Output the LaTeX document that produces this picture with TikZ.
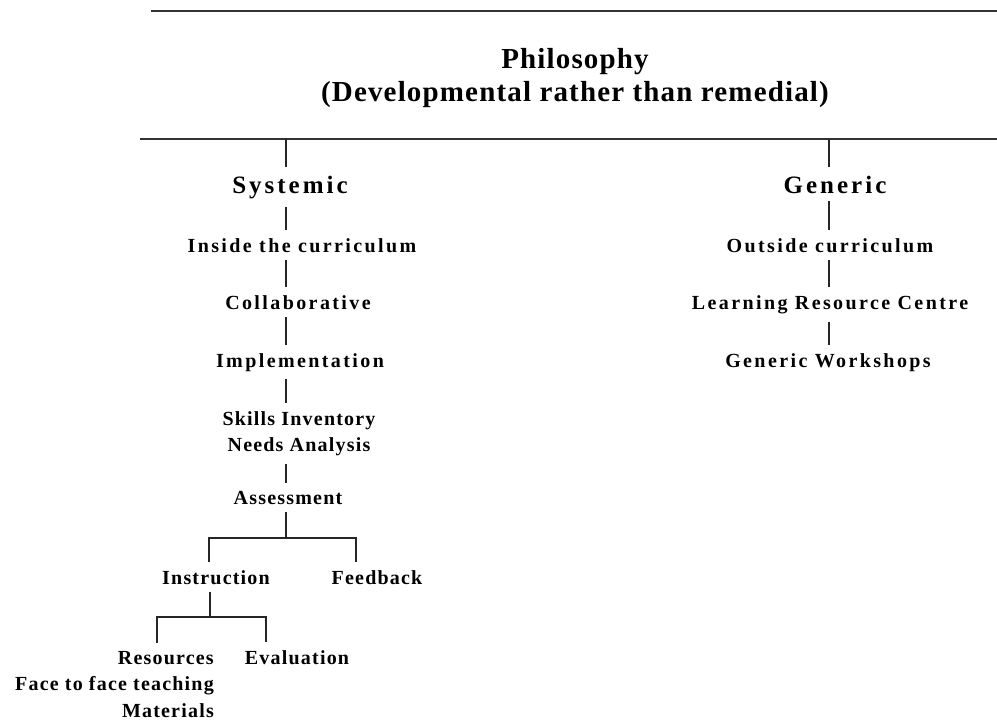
\documentclass[tikz,border=0pt]{standalone}
\usepackage{fontspec}
\setmainfont{Liberation Serif}
\newfontfamily\itemfam[LetterSpace=12]{Liberation Serif}
\newfontfamily\itemfamtight[LetterSpace=6]{Liberation Serif}
\newfontfamily\titlefam[LetterSpace=4]{Liberation Serif}
\tikzset{
  conn/.style={line width=1.5pt, black!85},
  rule/.style={line width=2.2pt, black!80},
  item/.style={inner xsep=0pt, inner ysep=8pt, anchor=base, font=\itemfam\bfseries\fontsize{20}{26.5}\selectfont},
  itemt/.style={inner xsep=0pt, inner ysep=8pt, anchor=base, font=\itemfamtight\bfseries\fontsize{20}{26.5}\selectfont},
  head/.style={inner xsep=0pt, inner ysep=8pt, anchor=base, font=\itemfam\bfseries\fontsize{25}{30}\selectfont},
  ttl/.style={inner sep=0pt, anchor=north, align=center, font=\titlefam\bfseries\fontsize{29}{33}\selectfont}
}
\begin{document}
\begin{tikzpicture}[x=1pt,y=-1pt]
\useasboundingbox (0,0) rectangle (997,721);
% rules
\coordinate (r1a) at (151,11); \coordinate (r1b) at (997,11);
\coordinate (r2a) at (140,139); \coordinate (r2b) at (997,139);
\draw[rule] (r1a) -- (r1b);
\draw[rule] (r2a) -- (r2b);
\node[ttl] (phil) at (575,48) {Philosophy\\(Developmental rather than remedial)};
% columns
\coordinate (cs) at (286,139);
\coordinate (cg) at (829,139);
% Systemic column
\node[head] (sys) at (290,193) {Systemic};
\node[item] (inside) at (302,252) {Inside the curriculum};
\node[item] (collab) at (298,309) {Collaborative};
\node[item] (impl) at (300,367) {Implementation};
\node[itemt, anchor=north, align=center] (skills) at (299,403) {Skills Inventory\\Needs Analysis};
\node[itemt] (assess) at (288,504) {Assessment};
\node[itemt] (instr) at (216,584) {Instruction};
\node[itemt] (feed) at (377,584) {Feedback};
\node[itemt, anchor=north east, align=right] (res) at (214,643) {Resources\\Face to face teaching\\Materials};
\node[itemt] (eval) at (297,664) {Evaluation};
% Generic column
\node[head] (gen) at (835,193) {Generic};
\node[item] (outside) at (830,252) {Outside curriculum};
\node[item] (lrc) at (830,309) {Learning Resource Centre};
\node[item] (gw) at (828,367) {Generic Workshops};
% connectors systemic
\draw[conn] (cs) -- (cs |- sys.north);
\draw[conn] (sys.south -| cs) -- (inside.north -| cs);
\draw[conn] (inside.south -| cs) -- (collab.north -| cs);
\draw[conn] (collab.south -| cs) -- (impl.north -| cs);
\draw[conn] (impl.south -| cs) -- (skills.north -| cs);
\draw[conn] (skills.south -| cs) -- (assess.north -| cs);
\coordinate (ja) at (286,538);
\coordinate (b1) at (209,538);
\coordinate (b2) at (356,538);
\draw[conn] (assess.south -| cs) -- (ja);
\draw[conn] (b1 |- instr.north) -- (b1) -- (b2) -- (b2 |- feed.north);
\coordinate (ji) at (210,617);
\coordinate (c1) at (157,617);
\coordinate (c2) at (266,617);
\draw[conn] (instr.south -| ji) -- (ji);
\draw[conn] (c1 |- res.north) -- (c1) -- (c2) -- (c2 |- eval.north);
% connectors generic
\draw[conn] (cg) -- (cg |- gen.north);
\draw[conn] (gen.south -| cg) -- (outside.north -| cg);
\draw[conn] (outside.south -| cg) -- (lrc.north -| cg);
\draw[conn] (lrc.south -| cg) -- (gw.north -| cg);
\end{tikzpicture}
\end{document}
